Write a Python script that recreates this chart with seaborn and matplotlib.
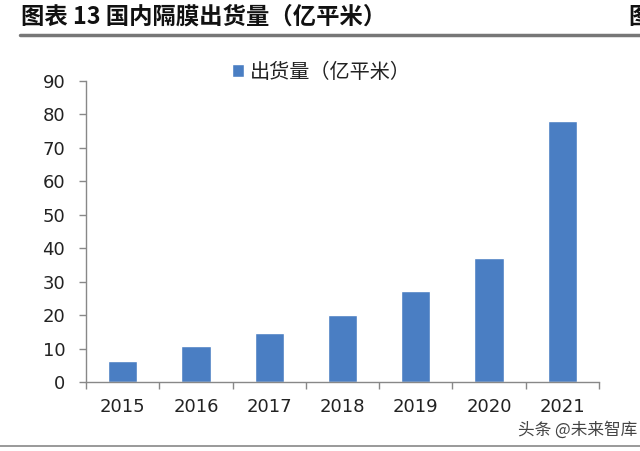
import matplotlib
matplotlib.use("Agg")
import matplotlib.pyplot as plt
import seaborn as sns
import pandas as pd
from matplotlib.lines import Line2D

years = ["2015", "2016", "2017", "2018", "2019", "2020", "2021"]
shipments = [6.3, 10.8, 14.6, 20.1, 27.3, 37.2, 78.0]
series_name = "出货量（亿平米）"
title = "图表 13 国内隔膜出货量（亿平米）"
yticks = [0, 10, 20, 30, 40, 50, 60, 70, 80, 90]

sns.set_theme(style="white")
plt.rcParams['font.family'] = ['Noto Sans CJK SC', 'DejaVu Sans']

df = pd.DataFrame({"year": years, "value": shipments})

fig = plt.figure(figsize=(6.4, 4.51), dpi=100)
ax = fig.add_axes([86/640, 1 - 382/451, (599-86)/640, (382-81)/451])

sns.barplot(data=df, x="year", y="value", color="#4A7EC3", width=0.4,
            saturation=1, ax=ax, label=series_name)

ax.set_xlim(-0.5, len(years) - 0.5)
ax.set_ylim(0, 90)
ax.set_yticks(yticks)
ax.set_xlabel("")
ax.set_ylabel("")

for lab in ax.get_xticklabels() + ax.get_yticklabels():
    lab.set_fontfamily(['DejaVu Sans'])
    lab.set_fontsize(13)
    lab.set_color("#222222")

ax.tick_params(axis="x", which="major", length=0, pad=11.5)
ax.set_xticks([i + 0.5 for i in range(-1, len(years))], minor=True)
ax.tick_params(axis="x", which="minor", length=5, width=1, color="#888888", direction="out", bottom=True)
ax.tick_params(axis="y", which="major", length=5, width=1, color="#888888", direction="out", left=True, pad=10)

for s in ["top", "right"]:
    ax.spines[s].set_visible(False)
for s in ["left", "bottom"]:
    ax.spines[s].set_color("#888888")
    ax.spines[s].set_linewidth(1)

leg = ax.legend(loc="center left", bbox_to_anchor=(232/640, 1 - 72/451),
                bbox_transform=fig.transFigure, frameon=False, borderpad=0, borderaxespad=0,
                fontsize=14.5, handlelength=0.6, handleheight=0.6, handletextpad=0.3)
for t in leg.get_texts():
    t.set_color("#222222")

fig.text(21/640, 1 - 17/451, title, fontsize=16.8, fontweight="bold",
         ha="left", va="center", color="#111111")
fig.text(628/640, 1 - 17/451, "图", fontsize=16.8, fontweight="bold",
         ha="left", va="center", color="#111111")
fig.add_artist(Line2D([20/640, 1.0], [1 - 34.5/451, 1 - 34.5/451], color="#777777", linewidth=2.5))
fig.add_artist(Line2D([0, 1.0], [1 - 446/451, 1 - 446/451], color="#888888", linewidth=1.2))
fig.text(637/640, 1 - 430/451, "头条 @未来智库", fontsize=12, ha="right", va="center", color="#444444")

fig.savefig("out.png", dpi=100, facecolor="white")
